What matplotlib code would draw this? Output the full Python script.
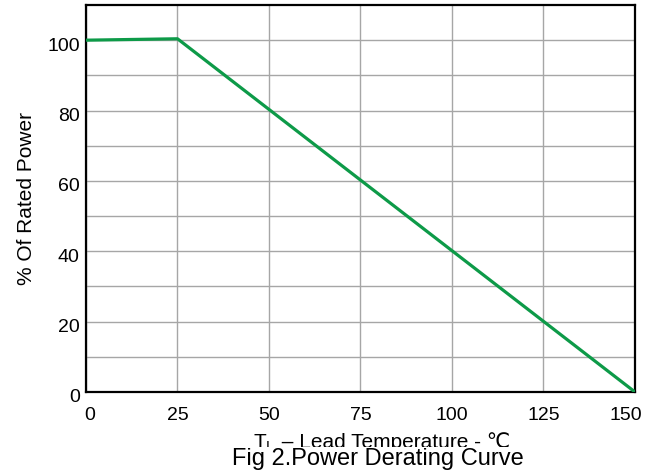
import numpy as np
import matplotlib.pyplot as plt
from matplotlib.transforms import ScaledTranslation

plt.rcParams['font.family'] = ['Liberation Sans', 'DejaVu Sans']

# derating curve points
temp = [0, 25, 150]
power = [100, 100.4, 0]
x_ticks = [0, 25, 50, 75, 100, 125, 150]
y_ticks = [0, 20, 40, 60, 80, 100]
y_minor = [10, 30, 50, 70, 90]

fig = plt.figure(figsize=(6.57, 4.76), dpi=100)
ax = fig.add_axes([0.1309, 0.1765, 0.8356, 0.813])

ax.plot(temp, power, color='#0d9a48', lw=2.3, solid_capstyle='butt', zorder=3)

ax.set_xlim(0, 150)
ax.set_ylim(0, 110)
ax.set_xticks(x_ticks)
ax.set_yticks(y_ticks)
ax.set_yticks(y_minor, minor=True)
ax.grid(True, which='both', color='#a6a6a6', lw=1.0)
ax.tick_params(which='both', length=0, labelsize=14)
ax.tick_params(axis='x', pad=11)
ax.tick_params(axis='y', pad=4.5)
for s in ax.spines.values():
    s.set_linewidth(1.6)
    s.set_color('black')

# y labels sit slightly below their grid lines in the original
for lbl in ax.get_yticklabels():
    lbl.set_transform(lbl.get_transform() + ScaledTranslation(0, -0.04, fig.dpi_scale_trans))
# end x labels are nudged inwards
xl = ax.get_xticklabels()
xl[0].set_transform(xl[0].get_transform() + ScaledTranslation(0.04, 0, fig.dpi_scale_trans))
xl[-1].set_transform(xl[-1].get_transform() + ScaledTranslation(-0.09, 0, fig.dpi_scale_trans))

ax.set_ylabel('% Of Rated Power', fontsize=15, labelpad=8)

# x label: "T_L" part in mathtext, rest as plain text so the ℃ glyph falls back
y_base = 28 / 476
t1 = fig.text(253 / 657, y_base, 'T$_\\mathregular{L}$', fontsize=15, ha='left', va='baseline')
fig.canvas.draw()
bb = t1.get_window_extent(fig.canvas.get_renderer())
fig.text(bb.x1 / fig.bbox.width, y_base, ' – Lead Temperature - ℃', fontsize=15,
         ha='left', va='baseline')

fig.text(378 / 657, 11 / 476, 'Fig 2.Power Derating Curve', fontsize=17, ha='center',
         va='baseline', bbox=dict(facecolor='white', edgecolor='none', pad=0.5))

fig.savefig('out.png', dpi=100)
